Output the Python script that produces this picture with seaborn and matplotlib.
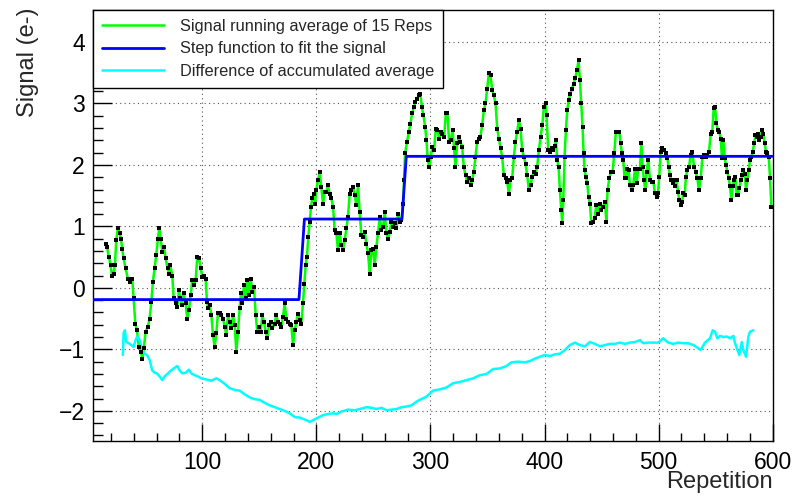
import matplotlib
matplotlib.use("Agg")
import matplotlib.pyplot as plt
import seaborn as sns
import pandas as pd
from matplotlib.ticker import MultipleLocator

# ---------------- data ----------------
sig_x = [15.2, 16.4, 18.1, 19.6, 20.8, 22.2, 23.4, 24.6, 26.0, 27.5, 28.7, 29.8, 31.0, 32.7, 34.8, 36.8,
         38.6, 39.8, 41.3, 42.7, 44.4, 46.2, 47.4, 48.8, 50.3, 52.3, 53.8, 55.3, 56.7, 58.2, 59.6, 61.1,
         62.3, 63.5, 64.9, 66.4, 67.8, 69.6, 70.8, 71.9, 73.7, 74.9, 76.6, 78.1, 79.5, 80.7, 82.2, 83.6,
         85.4, 86.8, 88.3, 89.8, 91.2, 92.7, 94.2, 95.6, 97.1, 98.5, 100.0, 101.5, 102.9, 104.1, 105.3,
         106.4, 107.9, 109.4, 110.8, 112.3, 113.7, 115.2, 116.7, 118.1, 119.6, 121.1, 122.5, 124.0, 125.4,
         126.9, 128.4, 129.8, 131.3, 132.7, 133.9, 135.1, 136.5, 138.0, 139.5, 140.9, 142.4, 143.9, 145.3,
         146.8, 148.2, 149.7, 151.2, 152.6, 154.1, 155.6, 157.0, 158.5, 159.9, 161.4,
         163.4, 164.8, 166.3, 167.8, 169.2, 170.7, 172.2, 173.6, 175.1, 176.5, 178.0, 179.5, 180.9, 182.4,
         183.9, 185.3, 186.8, 188.2, 189.4, 190.6, 191.7, 192.9, 194.1, 195.3, 196.4, 197.6, 198.8, 199.9,
         201.4, 202.9, 204.3, 205.8, 207.2, 208.7, 210.2, 211.6, 213.1, 214.6, 216.0, 217.5, 218.9, 220.4,
         221.9, 223.3, 224.8, 226.3, 227.7, 229.2, 230.6, 232.1, 233.6, 235.0, 236.5, 237.9, 239.4, 240.9,
         242.3, 243.8, 245.3, 246.7, 248.2, 249.6, 251.1, 252.6, 254.0, 255.5, 257.0, 258.4, 259.9, 261.3,
         262.8, 264.3, 265.7, 267.2, 268.6, 270.1, 271.6, 273.0, 274.5, 276.0, 276.8, 277.7,
         279.5, 281.0, 282.4, 283.9, 285.4, 286.8, 288.3, 289.7, 291.2, 292.4, 293.8, 295.3, 296.5, 297.6,
         298.8, 300.3, 301.7, 303.2, 304.6, 306.1, 307.6, 309.0, 310.5, 312.0, 313.4, 314.9, 316.3, 317.8,
         319.3, 320.7, 321.9, 323.4, 324.8, 326.3, 327.8, 329.2, 330.7, 332.1, 333.6, 335.1, 336.5, 338.0,
         339.4, 340.9, 342.4, 343.8, 345.3, 346.8, 348.2, 349.7, 351.1, 352.6, 354.1, 355.5, 357.0, 358.5,
         359.9, 361.4, 362.8, 364.3, 365.8, 367.2, 368.7, 370.1, 371.6, 373.1, 374.5, 376.0, 377.5, 378.9,
         380.4, 381.8, 383.3, 384.8, 386.2, 387.7, 389.1, 390.6, 392.1, 393.5, 395.0,
         396.5, 398.0, 399.4, 400.9, 401.7, 403.2, 404.7, 406.1, 407.6, 409.0, 409.9, 411.1, 412.3, 413.4,
         414.6, 415.5, 416.4, 417.5, 418.7, 419.9, 421.0, 422.5, 424.0, 425.4, 426.9, 428.3, 429.8, 431.0,
         432.1, 433.3, 434.2, 435.1, 436.2, 437.4, 438.6, 439.8, 440.9, 442.4, 443.8, 445.3, 446.8, 448.2,
         449.7, 451.2,
         452.9, 454.1, 455.2, 456.7, 458.1, 459.6, 461.1, 462.5, 464.0, 465.5, 466.6, 467.8, 469.0, 470.1,
         471.3, 472.5, 473.6, 474.8, 476.3, 477.7, 479.2, 480.7, 482.1, 483.6, 484.8, 485.9, 487.1, 488.3,
         489.4, 490.9, 492.4, 493.8, 495.3, 496.7, 498.2, 499.4, 500.5, 501.7, 503.2, 504.6, 506.1, 507.6,
         508.7, 509.9, 511.1, 512.2, 513.4, 514.6, 515.8, 516.9, 518.1, 519.3, 520.4, 521.6, 522.8, 523.9,
         525.1, 526.6, 528.0, 529.5, 531.0, 532.4, 533.9, 535.3, 536.8, 538.3, 539.7, 541.2, 542.7, 544.1,
         545.6, 547.0, 548.2, 549.4, 550.6, 551.7, 553.2, 554.3, 555.5, 556.7, 557.9, 559.0, 560.2, 561.4,
         562.5, 563.7, 564.9, 566.0, 567.2, 568.4, 569.6, 570.7, 571.9, 573.1, 574.2, 575.4, 576.6, 577.7,
         578.9, 580.1, 581.2, 582.4, 583.6, 584.8, 585.9, 587.1, 588.3, 589.4, 590.6, 591.8, 592.9, 594.1,
         595.3, 596.5, 597.6, 598.8]
sig_y = [0.72, 0.67, 0.50, 0.37, 0.20, 0.23, 0.37, 0.78, 0.97, 0.89, 0.80, 0.64, 0.48, 0.32, 0.15, 0.10,
         0.15, -0.17, -0.58, -0.69, -0.96, -1.04, -1.15, -0.98, -0.71, -0.63, -0.50, -0.23, 0.10, 0.32, 0.53, 0.80,
         0.98, 0.80, 0.59, 0.67, 0.48, 0.32, 0.23, 0.37, 0.20, -0.17, -0.25, -0.31, -0.04, -0.17, -0.28, -0.09,
         -0.25, -0.50, -0.36, -0.12, 0.13, 0.04, 0.13, 0.51, 0.48, 0.32, 0.18, 0.20, 0.15, -0.23, -0.33,
         -0.28, -0.44, -0.77, -0.96, -0.74, -0.41, -0.41, -0.44, -0.50, -0.63, -0.77, -0.44, -0.55, -0.66,
         -0.44, -0.60, -1.04, -0.71, -0.33, -0.09, -0.25, 0.04, -0.17, 0.13, -0.12, 0.15, -0.06, 0.02,
         -0.44, -0.71, -0.63, -0.71, -0.44, -0.55, -0.71, -0.82, -0.60, -0.55, -0.66,
         -0.58, -0.44, -0.55, -0.58, -0.63, -0.47, -0.25, -0.50, -0.55, -0.58, -0.60, -0.93, -0.69, -0.55,
         -0.42, -0.53, -0.58, -0.25, 0.07, 0.37, 0.51, 0.83, 1.07, 1.32, 1.46, 1.53, 1.37, 1.59,
         1.75, 1.89, 1.64, 1.37, 1.56, 1.56, 1.67, 1.53, 1.46, 1.32, 0.94, 0.89, 0.61, 0.89,
         0.70, 0.61, 0.78, 0.97, 1.16, 1.53, 1.59, 1.64, 1.51, 1.35, 1.67, 1.24, 0.86, 0.83,
         0.91, 0.72, 0.56, 0.23, 0.61, 0.64, 0.37, 0.67, 0.89, 1.16, 0.94, 0.99, 1.24, 0.89,
         0.80, 0.91, 1.07, 0.99, 1.05, 0.97, 1.21, 1.07, 1.10, 1.37, 1.75, 2.19,
         2.38, 2.54, 2.67, 2.84, 2.94, 3.03, 3.08, 3.13, 3.16, 2.94, 2.81, 2.62, 2.40, 2.08,
         1.97, 2.13, 2.29, 2.24, 2.59, 2.57, 2.43, 2.54, 2.51, 2.46, 2.84, 2.84, 2.38, 2.40,
         2.57, 2.27, 1.97, 2.35, 2.46, 2.38, 2.29, 1.97, 1.83, 1.73, 1.78, 1.67, 1.75, 1.89,
         2.13, 2.38, 2.43, 2.46, 2.65, 2.89, 3.00, 3.24, 3.49, 3.46, 3.22, 3.13, 3.00, 2.59,
         2.43, 2.27, 2.13, 1.83, 1.78, 1.73, 1.53, 1.75, 1.78, 2.13, 2.38, 2.54, 2.73, 2.59,
         2.24, 2.13, 2.02, 1.83, 1.59, 1.67, 1.81, 1.89, 1.86, 1.97, 2.24,
         2.46, 2.65, 2.94, 3.00, 2.81, 2.24, 2.21, 2.27, 2.24, 2.30, 2.40, 2.08, 1.97, 1.59,
         1.27, 1.05, 1.43, 2.13, 2.57, 2.89, 3.05, 3.16, 3.24, 3.32, 3.41, 3.54, 3.70, 3.38,
         3.00, 2.62, 2.19, 1.91, 1.81, 1.70, 1.48, 1.37, 1.05, 1.07, 1.13, 1.35, 1.21, 1.37,
         1.27, 1.32,
         1.40, 1.08, 1.59, 1.78, 1.89, 1.89, 2.19, 2.54, 2.54, 2.54, 2.35, 2.19, 2.08, 1.78,
         1.78, 1.94, 1.92, 1.67, 1.59, 1.67, 1.94, 1.70, 1.94, 1.94, 2.35, 1.97, 1.75, 1.59,
         1.89, 2.08, 1.75, 1.73, 1.73, 1.54, 1.48, 1.54, 1.81, 2.21, 2.27, 2.24, 2.19, 2.11,
         1.97, 1.83, 1.75, 1.70, 1.75, 1.65, 1.75, 1.56, 1.43, 1.35, 1.40, 1.54, 1.51, 1.81,
         1.92, 1.97, 2.16, 2.21, 1.97, 1.89, 1.78, 1.59, 1.78, 2.13, 2.16, 2.13, 2.16, 2.21,
         2.51, 2.54, 2.92, 2.95, 2.68, 2.57, 2.54, 2.43, 2.11, 2.40, 2.11, 2.00, 1.89, 1.78,
         1.65, 1.43, 1.65, 1.75, 1.81, 1.51, 1.51, 1.62, 1.75, 1.83, 1.92, 1.86, 1.59, 1.75,
         1.92, 2.08, 2.13, 2.21, 2.35, 2.48, 2.46, 2.51, 2.40, 2.46, 2.57, 2.51, 2.35, 2.21,
         2.19, 2.13, 1.78, 1.32]

step_x = [4.2, 184.7, 189.5, 275.0, 278.8, 600.0]
step_y = [-0.19, -0.19, 1.12, 1.12, 2.14, 2.14]

diff_x = [30.4, 31.0, 32.2, 33.3, 35.7, 37.7, 39.8, 41.5, 43.0, 44.4, 45.6, 47.4, 49.4, 51.5, 53.8, 56.1,
          58.2, 60.2, 62.6, 64.9, 67.0, 69.9, 72.8, 75.7, 78.1, 80.1, 82.5, 85.4, 88.3, 90.4, 93.3, 96.2,
          99.1, 103.5, 107.9, 112.3, 115.2, 119.6, 124.0, 128.4, 132.7, 137.1, 141.5, 145.9, 150.3, 154.7,
          159.1, 163.5, 167.8, 172.2, 176.6, 181.0, 185.4, 189.8, 194.2, 197.1, 201.5, 205.8, 210.2, 214.6,
          218.1, 221.9, 227.8, 233.6, 238.0, 243.9, 248.2, 252.6, 257.0, 261.4, 265.8, 270.2, 274.6, 278.9,
          283.3, 287.7, 290.6, 296.4, 302.3, 308.1, 314.0, 319.8, 325.7, 331.5, 337.4, 343.2, 349.1, 354.9,
          360.8, 366.6, 371.0, 376.9, 382.7, 387.1, 391.5, 395.9, 400.2, 404.6, 409.0, 413.4, 417.8, 422.2,
          426.6, 431.0, 435.3, 439.7, 444.1, 448.5, 452.9, 457.3, 461.7, 466.0, 470.4, 474.8, 479.2, 483.6,
          486.5, 490.9, 495.3, 499.7, 504.0, 508.4, 512.8, 517.2, 521.6, 526.0, 530.4, 534.7, 536.8, 540.6,
          545.0, 547.3, 549.4, 551.4, 553.8, 556.7, 559.6, 562.5, 565.5, 566.9, 569.0, 570.7, 572.8, 574.2,
          576.6, 578.6, 580.1, 583.0]
diff_y = [-1.09, -0.74, -0.69, -0.88, -0.90, -0.93, -0.96, -0.85, -0.79, -0.82, -0.88, -1.01, -1.07, -1.09,
          -1.17, -1.34, -1.38, -1.39, -1.44, -1.50, -1.44, -1.39, -1.34, -1.30, -1.27, -1.34, -1.39, -1.38,
          -1.33, -1.39, -1.42, -1.44, -1.47, -1.49, -1.51, -1.47, -1.50, -1.56, -1.63, -1.66, -1.67, -1.73,
          -1.78, -1.81, -1.82, -1.87, -1.91, -1.94, -1.97, -2.00, -2.04, -2.10, -2.11, -2.14, -2.18, -2.15,
          -2.11, -2.07, -2.05, -2.04, -2.05, -2.01, -1.98, -1.99, -1.97, -1.94, -1.95, -1.97, -1.95, -1.99,
          -1.98, -1.97, -1.94, -1.93, -1.91, -1.85, -1.82, -1.77, -1.67, -1.65, -1.62, -1.55, -1.53, -1.50,
          -1.47, -1.42, -1.40, -1.32, -1.31, -1.27, -1.21, -1.20, -1.21, -1.19, -1.15, -1.12, -1.09, -1.11,
          -1.08, -1.07, -1.01, -0.93, -0.89, -0.93, -0.95, -0.88, -0.91, -0.95, -0.93, -0.91, -0.91, -0.89,
          -0.91, -0.89, -0.88, -0.85, -0.90, -0.89, -0.89, -0.89, -0.82, -0.89, -0.91, -0.89, -0.90, -0.90,
          -0.93, -0.98, -1.01, -0.89, -0.82, -0.69, -0.71, -0.82, -0.78, -0.80, -0.79, -0.82, -0.78, -0.90,
          -1.01, -1.09, -0.88, -1.01, -1.12, -0.79, -0.71, -0.69]

labels = ["Signal running average of 15 Reps",
          "Step function to fit the signal",
          "Difference of accumulated average"]
x_label = "Repetition"
y_label = "Signal (e-)"

# ---------------- plotting ----------------
sns.set_theme(style="white")
plt.rcParams['font.family'] = ['Liberation Sans', 'DejaVu Sans']

fig = plt.figure(figsize=(7.92, 4.96), dpi=100)
ax = fig.add_axes([93 / 792, 55 / 496, 680 / 792, 431 / 496])

df_sig = pd.DataFrame({"x": sig_x, "y": sig_y})
df_step = pd.DataFrame({"x": step_x, "y": step_y})
df_diff = pd.DataFrame({"x": diff_x, "y": diff_y})

sns.lineplot(data=df_sig, x="x", y="y", ax=ax, color="#00ff00", lw=1.8,
             sort=False, estimator=None, label=labels[0], zorder=3)
sns.scatterplot(data=df_sig, x="x", y="y", ax=ax, color="black", marker="s",
                s=9, linewidth=0, zorder=4, legend=False)
sns.lineplot(data=df_step, x="x", y="y", ax=ax, color="#0000ff", lw=2.0,
             sort=False, estimator=None, label=labels[1], zorder=5)
sns.lineplot(data=df_diff, x="x", y="y", ax=ax, color="#00ffff", lw=1.8,
             sort=False, estimator=None, label=labels[2], zorder=3)

ax.set_xlim(4.2, 600.2)
ax.set_ylim(-2.49, 4.52)
ax.set_xlabel("")
ax.set_ylabel("")

ax.xaxis.set_major_locator(MultipleLocator(100))
ax.xaxis.set_minor_locator(MultipleLocator(20))
ax.yaxis.set_major_locator(MultipleLocator(1))
ax.yaxis.set_minor_locator(MultipleLocator(0.2))

ax.tick_params(axis="both", which="both", direction="in", colors="black",
               labelsize=16.5, top=False, right=False, bottom=True, left=True)
ax.tick_params(axis="x", which="major", length=12, width=1, pad=7)
ax.tick_params(axis="x", which="minor", length=6, width=1)
ax.tick_params(axis="y", which="major", length=14, width=1, pad=6)
ax.tick_params(axis="y", which="minor", length=7, width=1)
ax.yaxis.set_major_formatter(matplotlib.ticker.FuncFormatter(
    lambda v, p: ("\u2212%d" % abs(v)) if v < 0 else "%d" % v))

ax.grid(True, which="major", linestyle=(0, (1, 3)), color="#555555", lw=0.8)
ax.set_axisbelow(True)
for s in ax.spines.values():
    s.set_color("black")
    s.set_linewidth(1.0)
    s.set_visible(True)

leg = ax.legend(loc="upper left", bbox_to_anchor=(0.0, 1.0), borderaxespad=0,
                frameon=True, fancybox=False, edgecolor="black", framealpha=1,
                fontsize=11.8, handlelength=3.8, handletextpad=0.95,
                labelspacing=0.45, borderpad=0.55)
leg.get_frame().set_linewidth(1.0)

fig.text(773 / 792, 14 / 496, x_label, ha="right", va="center", fontsize=17)
fig.text(28 / 792, 0.985, y_label, ha="center", va="top", rotation=90, fontsize=17)

fig.savefig("out.png", dpi=100)
